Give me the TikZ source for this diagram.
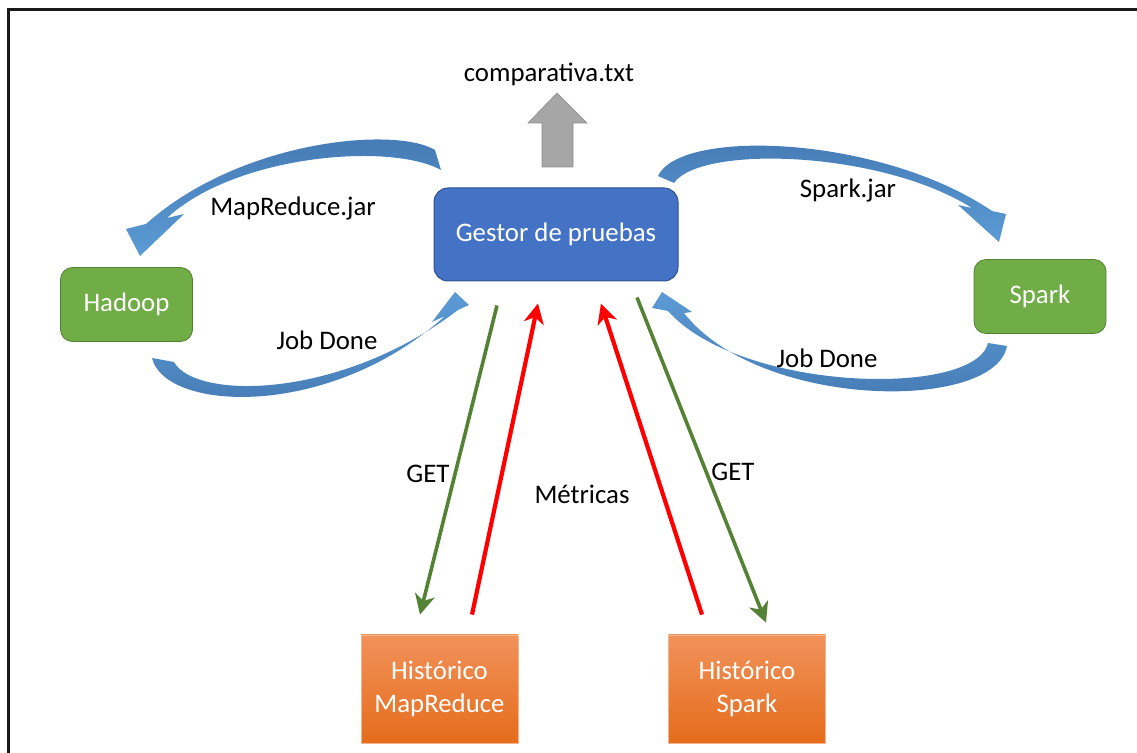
\documentclass[tikz,border=0pt]{standalone}
\usepackage{fontspec}
\setmainfont{Carlito}
\usetikzlibrary{arrows.meta,calc}
\definecolor{gestorblue}{RGB}{68,114,196}
\definecolor{gestorline}{RGB}{47,82,143}
\definecolor{nodegreen}{RGB}{112,173,71}
\definecolor{nodegreenline}{RGB}{84,130,53}
\definecolor{orangetop}{RGB}{241,146,90}
\definecolor{orangebot}{RGB}{229,108,28}
\definecolor{getgreen}{RGB}{84,130,53}
\definecolor{arrowlight}{RGB}{91,155,213}
\definecolor{arrowdark}{RGB}{68,120,178}
\definecolor{outgray}{RGB}{166,166,166}
\tikzset{
        every node/.style={font=\fontsize{13.4}{16.5}\selectfont},
        bluebox/.style={text=white, rounded corners=7pt, draw=gestorline, line width=0.5pt, fill=gestorblue, minimum width=122pt, minimum height=46.5pt},
        greenbox/.style={text=white, rounded corners=6pt, draw=nodegreenline, line width=0.4pt, fill=nodegreen, minimum width=66pt, minimum height=37pt},
        orangebox/.style={text=white, align=center, draw=orangetop!70!white, line width=0.4pt, top color=orangetop, bottom color=orangebot, minimum width=78.5pt, minimum height=54pt},
        getline/.style={draw=getgreen, line width=1.8pt, -{Stealth[length=10pt, width=10pt, inset=3pt]}},
        metline/.style={draw=red, line width=2.1pt, -{Stealth[length=10pt, width=10pt, inset=3pt]}},
        jobdown/.style={top color=arrowdark, bottom color=arrowlight},
        jobup/.style={top color=arrowlight, bottom color=arrowdark},
        outarrow/.style={fill=outgray, draw=outgray!85!black, line width=0.3pt},
        frameline/.style={draw=black!90, line width=1.5pt}
          }
\begin{document}
\begin{tikzpicture}[x=0.5pt, y=-0.5pt]
        \useasboundingbox (0,0) rectangle (1137,753);
        \begin{scope}
          \clip (0,0) rectangle (1137,753);
          \draw[frameline] (8,770) -- (8,10) -- (1150,10);
        \end{scope}

        % nodes
        \node[bluebox] (gestor) at (556,234.5) {Gestor de pruebas};
        \node[greenbox] (hadoop) at (126.5,304.5) {Hadoop};
        \node[greenbox] (spark) at (1040,296.5) {Spark};
        \node[orangebox] (histmr) at (439.5,689) {Histórico\\MapReduce};
        \node[orangebox] (histsp) at (747,689) {Histórico\\Spark};
        \node (salida) at (549,74) {comparativa.txt};

        % output arrow
        \path[outarrow] (542,167) -- (542,123) -- (528,123) -- (557,93) -- (587,123) -- (573,123) -- (573,167) -- cycle;

        % curved arrows
        \path[jobdown] (435,150) .. controls (395,126) and (240,140) .. (146,224) -- (126,229) -- (140,256) -- (184,214) -- (167,218) .. controls (235,155) and (390,142) .. (441,170) -- cycle;
        \path[jobup] (152,358) .. controls (165,412) and (330,420) .. (445,316) -- (432,322) -- (455,292) -- (469,305) -- (458,310) .. controls (340,400) and (195,400) .. (174,362) -- cycle;
        \path[jobdown] (658,176) .. controls (680,128) and (880,135) .. (992,211) -- (1006,214) -- (999,242) -- (958,205) -- (972,208) .. controls (880,150) and (700,145) .. (674,183) -- cycle;
        \path[jobup] (1007,346) .. controls (995,412) and (760,410) .. (684,313) -- (692,312) -- (662,292) -- (652,308) -- (668,311) .. controls (740,392) and (975,398) .. (988,343) -- cycle;

        \node (mrjar) at (293,208) {MapReduce.jar};
        \node (jobmr) at (327,340) {Job Done};
        \node (sparkjar) at (848,190) {Spark.jar};
        \node (jobsp) at (827,358) {Job Done};

        % GET and metricas
        \coordinate (getmr) at ($(gestor.south)+(-59,24)$);
        \coordinate (metmr) at ($(gestor.south)+(-18,22)$);
        \coordinate (metsp) at ($(gestor.south)+(45,22)$);
        \coordinate (getsp) at ($(gestor.south)+(81,16)$);
        \coordinate (inmr) at ($(histmr.north)+(-19.5,-20)$);
        \coordinate (outmr) at ($(histmr.north)+(32.5,-20)$);
        \coordinate (outsp) at ($(histsp.north)+(-45,-20)$);
        \coordinate (insp) at ($(histsp.north)+(19,-12)$);
        \draw[getline] (getmr) -- (inmr);
        \draw[metline] (outmr) -- (metmr);
        \draw[metline] (outsp) -- (metsp);
        \draw[getline] (getsp) -- (insp);

        \node (getl) at (428,474) {GET};
        \node (metricas) at (582,494) {Métricas};
        \node (getr) at (733,472) {GET};
      \end{tikzpicture}
\end{document}
